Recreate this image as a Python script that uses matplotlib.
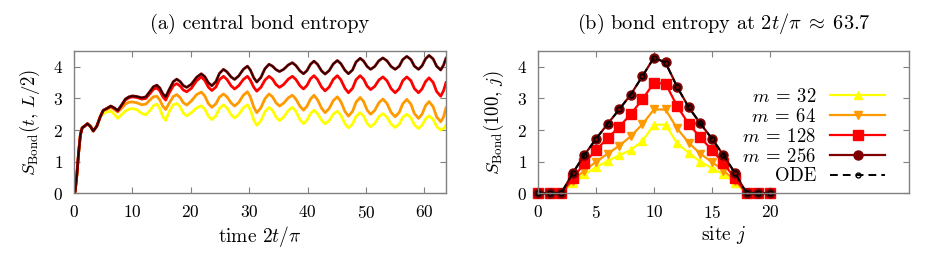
import numpy as np
import matplotlib
matplotlib.use('Agg')
import matplotlib.pyplot as plt

plt.rcParams['font.family'] = 'serif'
plt.rcParams['font.serif'] = ['cmr10']
plt.rcParams['mathtext.fontset'] = 'cm'
plt.rcParams['axes.unicode_minus'] = False
plt.rcParams['axes.formatter.use_mathtext'] = True

# ---- panel (a): central bond entropy vs time ----
t_early = [0.0, 0.2, 0.5, 0.8, 1.1, 1.4, 1.8, 2.3, 2.8, 3.3, 3.9, 4.5, 5.0, 5.6,
           6.3, 6.9, 7.5, 8.1, 8.8, 9.4, 10.0, 10.8, 11.6, 12.3, 13.0, 13.6,
           14.2, 14.7, 15.2, 15.7, 16.3, 17.0, 17.6, 18.2, 18.7, 19.3, 20.1, 21.0]
t_late = [21.8, 22.4, 23.0, 23.6, 24.3, 24.9, 25.6, 26.2, 26.9, 27.5, 28.2, 29.0,
          29.7, 30.2, 30.8, 31.3, 32.0, 32.7, 33.4, 34.0, 34.6, 35.2, 35.9, 36.7,
          37.4, 38.0, 38.7, 39.3, 39.9, 40.5, 41.1, 41.7, 42.4, 43.0, 43.7, 44.4,
          45.1, 45.7, 46.4, 47.0, 47.7, 48.3, 49.0, 49.6, 50.2, 50.8, 51.5, 52.2,
          52.9, 53.6, 54.3, 55.0, 55.7, 56.3, 57.0, 57.7, 58.3, 59.0, 59.6, 60.2,
          60.8, 61.5, 62.1, 62.8, 63.3, 63.7]
time = t_early + t_late

S_m256 = [0.0, 0.05, 0.6, 1.3, 1.85, 2.07, 2.12, 2.20, 2.12, 1.97, 2.12, 2.42, 2.62, 2.68,
          2.76, 2.70, 2.62, 2.78, 2.98, 3.05, 3.08, 3.06, 3.02, 3.05, 3.22, 3.37,
          3.42, 3.33, 3.15, 3.05, 3.28, 3.53, 3.61, 3.53, 3.41, 3.35, 3.45, 3.67,
          3.78, 3.69, 3.50, 3.40, 3.53, 3.79, 3.92, 3.84, 3.68, 3.60, 3.71, 3.92,
          4.02, 3.90, 3.65, 3.52, 3.66, 3.94, 4.08, 4.02, 3.91, 3.85, 3.92, 4.06,
          4.13, 4.04, 3.87, 3.78, 3.88, 4.08, 4.18, 4.08, 3.87, 3.77, 3.88, 4.09,
          4.20, 4.10, 3.89, 3.78, 3.90, 4.15, 4.27, 4.18, 4.01, 3.92, 4.01, 4.19,
          4.28, 4.19, 4.01, 3.92, 4.02, 4.23, 4.33, 4.23, 4.02, 3.92, 4.03, 4.25,
          4.36, 4.25, 4.02, 3.90, 4.06, 4.27]
S_m128 = [0.0, 0.05, 0.6, 1.3, 1.85, 2.07, 2.12, 2.20, 2.12, 1.97, 2.12, 2.42, 2.62, 2.68,
          2.75, 2.69, 2.60, 2.76, 2.95, 3.02, 3.05, 3.03, 2.98, 3.00, 3.15, 3.29,
          3.33, 3.24, 3.06, 2.95, 3.17, 3.40, 3.47, 3.39, 3.27, 3.21, 3.32, 3.56,
          3.68, 3.57, 3.36, 3.25, 3.36, 3.59, 3.70, 3.60, 3.40, 3.30, 3.40, 3.60,
          3.70, 3.58, 3.35, 3.23, 3.35, 3.58, 3.70, 3.61, 3.44, 3.35, 3.44, 3.61,
          3.70, 3.60, 3.40, 3.30, 3.41, 3.62, 3.72, 3.60, 3.36, 3.24, 3.36, 3.60,
          3.72, 3.59, 3.32, 3.18, 3.32, 3.59, 3.72, 3.61, 3.39, 3.28, 3.38, 3.58,
          3.68, 3.56, 3.31, 3.18, 3.31, 3.56, 3.68, 3.56, 3.31, 3.18, 3.30, 3.53,
          3.65, 3.51, 3.22, 3.07, 3.25, 3.50]
S_m64 = [0.0, 0.05, 0.6, 1.3, 1.85, 2.07, 2.12, 2.20, 2.12, 1.97, 2.12, 2.42, 2.62, 2.66,
         2.72, 2.65, 2.57, 2.68, 2.82, 2.88, 2.89, 2.86, 2.80, 2.82, 2.95, 3.05,
         3.07, 2.95, 2.76, 2.65, 2.85, 3.06, 3.12, 3.02, 2.87, 2.79, 2.92, 3.12,
         3.20, 3.08, 2.84, 2.72, 2.83, 3.04, 3.14, 3.05, 2.86, 2.76, 2.87, 3.10,
         3.21, 3.05, 2.72, 2.55, 2.70, 2.99, 3.14, 3.05, 2.86, 2.76, 2.85, 3.02,
         3.10, 2.98, 2.75, 2.63, 2.75, 2.98, 3.10, 2.96, 2.69, 2.55, 2.68, 2.93,
         3.05, 2.90, 2.59, 2.44, 2.59, 2.88, 3.03, 2.90, 2.63, 2.50, 2.62, 2.86,
         2.98, 2.84, 2.56, 2.42, 2.56, 2.83, 2.97, 2.82, 2.52, 2.37, 2.50, 2.77,
         2.90, 2.74, 2.42, 2.26, 2.42, 2.70]
S_m32 = [0.0, 0.05, 0.6, 1.3, 1.85, 2.07, 2.12, 2.20, 2.12, 1.97, 2.12, 2.42, 2.52, 2.57,
         2.60, 2.50, 2.37, 2.48, 2.60, 2.66, 2.68, 2.64, 2.53, 2.48, 2.62, 2.77,
         2.82, 2.68, 2.43, 2.31, 2.58, 2.80, 2.84, 2.73, 2.54, 2.45, 2.55, 2.70,
         2.77, 2.66, 2.44, 2.33, 2.45, 2.68, 2.80, 2.70, 2.49, 2.38, 2.49, 2.70,
         2.80, 2.64, 2.31, 2.15, 2.29, 2.58, 2.72, 2.62, 2.41, 2.30, 2.41, 2.62,
         2.72, 2.59, 2.33, 2.20, 2.31, 2.52, 2.63, 2.52, 2.31, 2.20, 2.30, 2.50,
         2.60, 2.47, 2.20, 2.07, 2.19, 2.43, 2.55, 2.44, 2.21, 2.10, 2.21, 2.42,
         2.52, 2.41, 2.19, 2.08, 2.19, 2.40, 2.50, 2.39, 2.16, 2.05, 2.15, 2.35,
         2.45, 2.34, 2.11, 2.00, 2.05, 2.15]

# ---- panel (b): bond entropy profile at 2t/pi ~ 63.7 ----
sites = list(range(21))
B_m32 = [0, 0, 0, 0.33, 0.60, 0.82, 1.02, 1.20, 1.37, 1.65, 2.17, 2.17, 1.58, 1.28,
         1.00, 0.80, 0.60, 0.33, 0, 0, 0]
B_m64 = [0, 0, 0, 0.40, 0.72, 0.99, 1.25, 1.50, 1.80, 2.18, 2.65, 2.65, 2.05, 1.60,
         1.25, 0.99, 0.72, 0.40, 0, 0, 0]
B_m128 = [0, 0, 0, 0.47, 0.95, 1.37, 1.74, 2.10, 2.50, 2.97, 3.49, 3.47, 2.76, 2.19,
          1.77, 1.37, 0.95, 0.47, 0, 0, 0]
B_m256 = [0, 0, 0, 0.64, 1.21, 1.72, 2.19, 2.65, 3.12, 3.70, 4.29, 4.14, 3.37, 2.72,
          2.21, 1.73, 1.20, 0.63, 0, 0, 0]
B_ode = [0, 0, 0, 0.64, 1.21, 1.72, 2.19, 2.65, 3.12, 3.70, 4.29, 4.13, 3.36, 2.72,
         2.21, 1.73, 1.21, 0.64, 0, 0, 0]

labels = [r'$m\:=\:32$', r'$m\:=\:64$', r'$m\:=\:128$', r'$m\:=\:256$']
colors = ['#ffff00', '#ff9900', '#ff0000', '#800000']
FS_TICK = 12.5
FS_LAB = 14
FS_TITLE = 14.6
FS_LEG = 13.5

fig = plt.figure(figsize=(9.26, 2.59), dpi=100)
ax1 = fig.add_axes([0.0799, 0.2537, 0.4017, 0.5494])
ax2 = fig.add_axes([0.581, 0.2537, 0.4006, 0.5494])

for S, c in zip([S_m32, S_m64, S_m128, S_m256], colors):
    ax1.plot(time, S, color=c, lw=2.0, solid_joinstyle='round')
ax1.plot(time, S_m256, color='k', lw=0.8, alpha=0.8)
ax1.set_xlim(0, 63.7)
ax1.set_ylim(0, 4.5)
ax1.set_xticks([0, 10, 20, 30, 40, 50, 60])
ax1.set_yticks([0, 1, 2, 3, 4])
ax1.set_xlabel(r'time $2t/\pi$', fontsize=FS_LAB, labelpad=2)
ax1.set_ylabel(r'$S_{\mathrm{Bond}}(t,\, L/2)$', fontsize=13.5, labelpad=8)
ax1.set_title('(a) central bond entropy', fontsize=FS_TITLE, pad=16)

markers = ['^', 'v', 's', 'o']
msizes = [6, 6, 7, 6.5]
for B, c, m, ms, lab in zip([B_m32, B_m64, B_m128, B_m256], colors, markers, msizes, labels):
    ax2.plot(sites, B, color=c, lw=1.6, marker=m, ms=ms, mec=c, label=lab, clip_on=False)
ax2.plot(sites, B_ode, color='k', lw=1.4, ls=(0, (4, 2.6)), marker='o', ms=3.5,
         mfc='none', mec='k', mew=1.0, label='ODE', clip_on=False)
ax2.set_xlim(0, 32)
ax2.set_ylim(0, 4.5)
ax2.set_xticks([0, 5, 10, 15, 20])
ax2.set_yticks([0, 1, 2, 3, 4])
ax2.set_xlabel(r'site $j$', fontsize=FS_LAB, labelpad=2)
ax2.set_ylabel(r'$S_{\mathrm{Bond}}(100,\, j)$', fontsize=13.5, labelpad=8)
ax2.set_title(r'(b) bond entropy at $2t/\pi\;\approx\;63.7$', fontsize=FS_TITLE, pad=16)
ax2.legend(loc='upper right', bbox_to_anchor=(0.935, 0.74), frameon=False,
           markerfirst=False, fontsize=FS_LEG, handlelength=2.9, handletextpad=0.75,
           labelspacing=0.1, borderpad=0, borderaxespad=0)

for ax in (ax1, ax2):
    for sp in ax.spines.values():
        sp.set_color('#808080')
        sp.set_linewidth(1.0)
    ax.tick_params(direction='in', top=True, right=True, length=4, width=0.8,
                   color='#808080', labelsize=FS_TICK, pad=8)

fig.savefig('out.png', dpi=100)
